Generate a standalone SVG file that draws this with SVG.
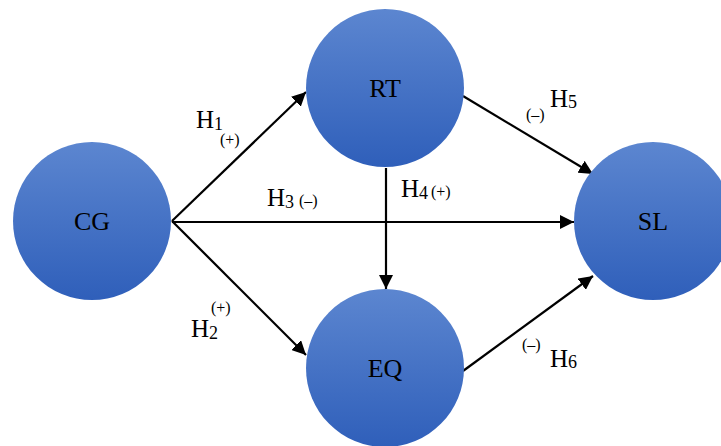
<svg xmlns="http://www.w3.org/2000/svg" width="721" height="446" viewBox="0 0 721 446">
<defs>
<linearGradient id="g" x1="0" y1="0" x2="0" y2="1">
<stop offset="0" stop-color="#5c86d0"/>
<stop offset="1" stop-color="#2f5fba"/>
</linearGradient>
<marker id="ah" markerUnits="userSpaceOnUse" markerWidth="14" markerHeight="14" viewBox="0 0 14 14" refX="14" refY="7" orient="auto">
<path d="M0,0 L14,7 L0,14 Z" fill="#000"/>
</marker>
<style>
.n{fill:url(#g);}
.t{font-family:"Liberation Serif","Times New Roman",serif;font-size:26px;fill:#000;}
.lb{font-family:"Liberation Serif","Times New Roman",serif;font-size:25px;fill:#000;}
.sb{font-size:18px;}
.sg{font-size:16px;}
.c{stroke:#000;stroke-width:2.2;fill:none;marker-end:url(#ah);}
</style>
</defs>
<rect width="721" height="446" fill="#fff"/>
<g id="connectors">
<line class="c" x1="172" y1="221" x2="306" y2="92"/>
<line class="c" x1="172" y1="221" x2="306" y2="355"/>
<line class="c" x1="172" y1="222" x2="574" y2="222"/>
<line class="c" x1="386" y1="168" x2="386" y2="289"/>
<line class="c" x1="463" y1="96" x2="593" y2="174"/>
<line class="c" x1="463" y1="371" x2="593" y2="276"/>
</g>
<g id="CG"><circle class="n" cx="92" cy="221" r="79"/><text class="t" x="92" y="230" text-anchor="middle">CG</text></g>
<g id="RT"><circle class="n" cx="385" cy="88" r="79"/><text class="t" x="385" y="97" text-anchor="middle">RT</text></g>
<g id="EQ"><circle class="n" cx="385" cy="368" r="79"/><text class="t" x="385" y="377" text-anchor="middle">EQ</text></g>
<g id="SL"><circle class="n" cx="653" cy="221" r="79"/><text class="t" x="653" y="230" text-anchor="middle">SL</text></g>
<g id="labels">
<text class="lb" x="196" y="128">H<tspan class="sb" dy="2">1</tspan></text>
<text class="lb sg" x="220" y="145">(+)</text>
<text class="lb" x="191" y="337">H<tspan class="sb" dy="2">2</tspan></text>
<text class="lb sg" x="211" y="313">(+)</text>
<text class="lb" x="267" y="206">H<tspan class="sb" dy="2">3</tspan></text>
<text class="lb sg" x="299" y="206">(–)</text>
<text class="lb" x="401" y="197">H<tspan class="sb" dy="2">4</tspan></text>
<text class="lb sg" x="431" y="197">(+)</text>
<text class="lb" x="550" y="107">H<tspan class="sb" dy="1">5</tspan></text>
<text class="lb sg" x="526" y="120">(–)</text>
<text class="lb" x="550" y="367">H<tspan class="sb" dy="1">6</tspan></text>
<text class="lb sg" x="522" y="350">(–)</text>
</g>
</svg>
